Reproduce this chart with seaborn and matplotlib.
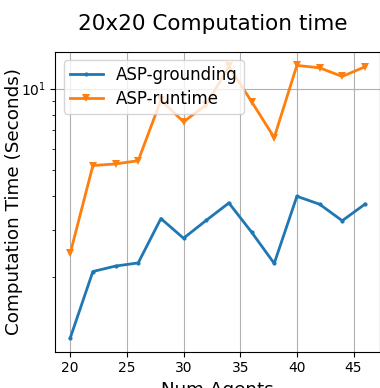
import matplotlib
matplotlib.use("Agg")
import matplotlib.pyplot as plt
import seaborn as sns
import pandas as pd

num_agents = [20, 22, 24, 26, 28, 30, 32, 34, 36, 38, 40, 42, 44, 46]
asp_grounding = [1.19, 2.10, 2.20, 2.26, 3.30, 2.79, 3.25, 3.77, 2.94, 2.25, 3.99, 3.73, 3.24, 3.73]
asp_runtime = [2.45, 5.19, 5.26, 5.41, 9.06, 7.54, 8.71, 12.1, 8.96, 6.59, 12.2, 11.95, 11.1, 12.05]
series_names = ["ASP-grounding", "ASP-runtime"]

df = pd.DataFrame({
    "Num Agents": num_agents * 2,
    "Time": asp_grounding + asp_runtime,
    "Method": [series_names[0]] * len(num_agents) + [series_names[1]] * len(num_agents),
})

plt.rcParams["font.family"] = ["DejaVu Sans"]
fig = plt.figure(figsize=(3.8, 3.88), dpi=100)
ax = fig.add_axes([0.146, 0.0936, 0.853, 0.773])

sns.lineplot(
    data=df, x="Num Agents", y="Time", hue="Method", style="Method",
    markers={"ASP-grounding": ".", "ASP-runtime": "v"}, dashes=False,
    palette=["#1f77b4", "#ff7f0e"], linewidth=2, markersize=6,
    markeredgewidth=0, ax=ax,
)
ax.set_yscale("log")
ax.grid(True, which="major", color="#b0b0b0", linewidth=0.8)
ax.set_axisbelow(True)
ax.set_xticks([20, 25, 30, 35, 40, 45])
ax.tick_params(labelsize=10)
ax.set_xlabel("Num Agents", fontsize=13.2)
ax.set_ylabel("Computation Time (Seconds)", fontsize=13.2)
ax.yaxis.set_label_coords(-0.100, 0.5)
ax.set_title("20x20 Computation time", fontsize=15.5, pad=16, x=0.484)
leg = ax.legend(loc="upper left", fontsize=12, title=None,
                labelspacing=0.35, borderpad=0.35)

fig.savefig("out.png", dpi=100)
